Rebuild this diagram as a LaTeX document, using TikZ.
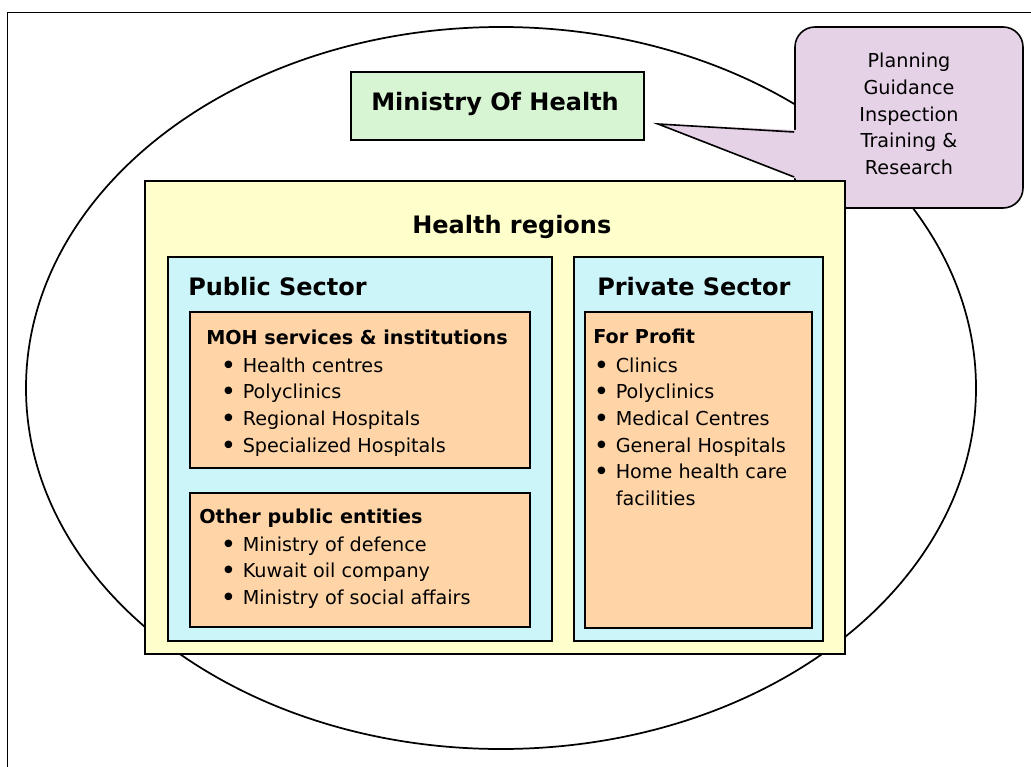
\documentclass[tikz,border=0pt]{standalone}
\usepackage{graphicx}
\usepackage{fontspec}
\setmainfont{DejaVu Sans}
\usetikzlibrary{fit}

\definecolor{mohgreen}{HTML}{D7F5D3}
\definecolor{taskpink}{HTML}{E6D2E6}
\definecolor{regionyellow}{HTML}{FFFFCC}
\definecolor{sectorcyan}{HTML}{CCF5FA}
\definecolor{servicepeach}{HTML}{FFD5A8}

\begin{document}
\begin{tikzpicture}[x=0.75pt,y=-0.75pt,
    box/.style={draw=black, line width=1.2pt, inner sep=0pt},
    title/.style={anchor=base west, inner sep=0pt, font=\bfseries\fontsize{18}{22}\selectfont},
    head/.style={anchor=base west, inner sep=0pt, font=\bfseries\fontsize{14.4}{20}\selectfont},
    list/.style={anchor=base west, inner sep=0pt, font=\fontsize{14.4}{20}\selectfont}]
    % Bullet with a fixed indent
    \newcommand{\itm}{\makebox[16.5pt][l]{\raisebox{-0.12em}{\scalebox{1.35}{\textbullet}}}}

    % Page size and frame
    \useasboundingbox (0,0) rectangle (1031,767);
    \clip (0,0) rectangle (1031,767);
    \draw[line width=1pt] (7.5,800) -- (7.5,12.5) -- (1060,12.5);

    % Ellipse round the whole system
    \draw[line width=1.3pt] (501,388) ellipse [x radius=356.25pt, y radius=270.75pt];

    % Callout with its pointer
    \node[box, fill=taskpink, rounded corners=15pt, fit={(795,27) (1023,208)}] (tasks) {};
    \fill[taskpink] (797,130) -- (658,124) -- (797,179) -- cycle;
    \coordinate (tip) at (658,124);
    \draw[line width=1.2pt] (tasks.west |- 0,132) -- (tip) -- (tasks.west |- 0,177);
    \node[list, anchor=base] (tasktext) at (909,68)
        {\begin{tabular}[t]{@{}c@{}}Planning\\Guidance\\Inspection\\Training \&\\Research\end{tabular}};

    % Ministry
    \node[box, fill=mohgreen, fit={(351,72) (644,140)}] (moh) {};
    \node[title] (mohtext) at (371,110) {Ministry Of Health};

    % Health regions
    \node[box, fill=regionyellow, fit={(145,181) (845,654)}] (regions) {};
    \node[title] (regionstext) at (412,233) {Health regions};

    % Sectors
    \node[box, fill=sectorcyan, fit={(168,257) (552,641)}] (public) {};
    \node[box, fill=sectorcyan, fit={(574,257) (823,641)}] (private) {};
    \node[title] (publictext) at (188,295) {Public Sector};
    \node[title] (privatetext) at (597,295) {Private Sector};

    % Services and institutions
    \node[box, fill=servicepeach, fit={(190,312) (530,468)}] (mohserv) {};
    \node[box, fill=servicepeach, fit={(190,493) (530,627)}] (otherpub) {};
    \node[box, fill=servicepeach, fit={(585,312) (812,628)}] (profit) {};

    \node[head] (mohservhead) at (206,344) {MOH services \& institutions};
    \node[list] (mohservlist) at (220.5,372)
        {\begin{tabular}[t]{@{}l@{}}\itm Health centres\\\itm Polyclinics\\\itm Regional Hospitals\\\itm Specialized Hospitals\end{tabular}};

    \node[head] (otherpubhead) at (199,523) {Other public entities};
    \node[list] (otherpublist) at (220.5,551)
        {\begin{tabular}[t]{@{}l@{}}\itm Ministry of defence\\\itm Kuwait oil company\\\itm Ministry of social affairs\end{tabular}};

    \node[head] (profithead) at (593,343) {For Profit};
    \node[list] (profitlist) at (593.5,372)
        {\begin{tabular}[t]{@{}l@{}}\itm Clinics\\\itm Polyclinics\\\itm Medical Centres\\\itm General Hospitals\\\itm Home health care\\\makebox[16.5pt]{}facilities\end{tabular}};
\end{tikzpicture}
\end{document}
